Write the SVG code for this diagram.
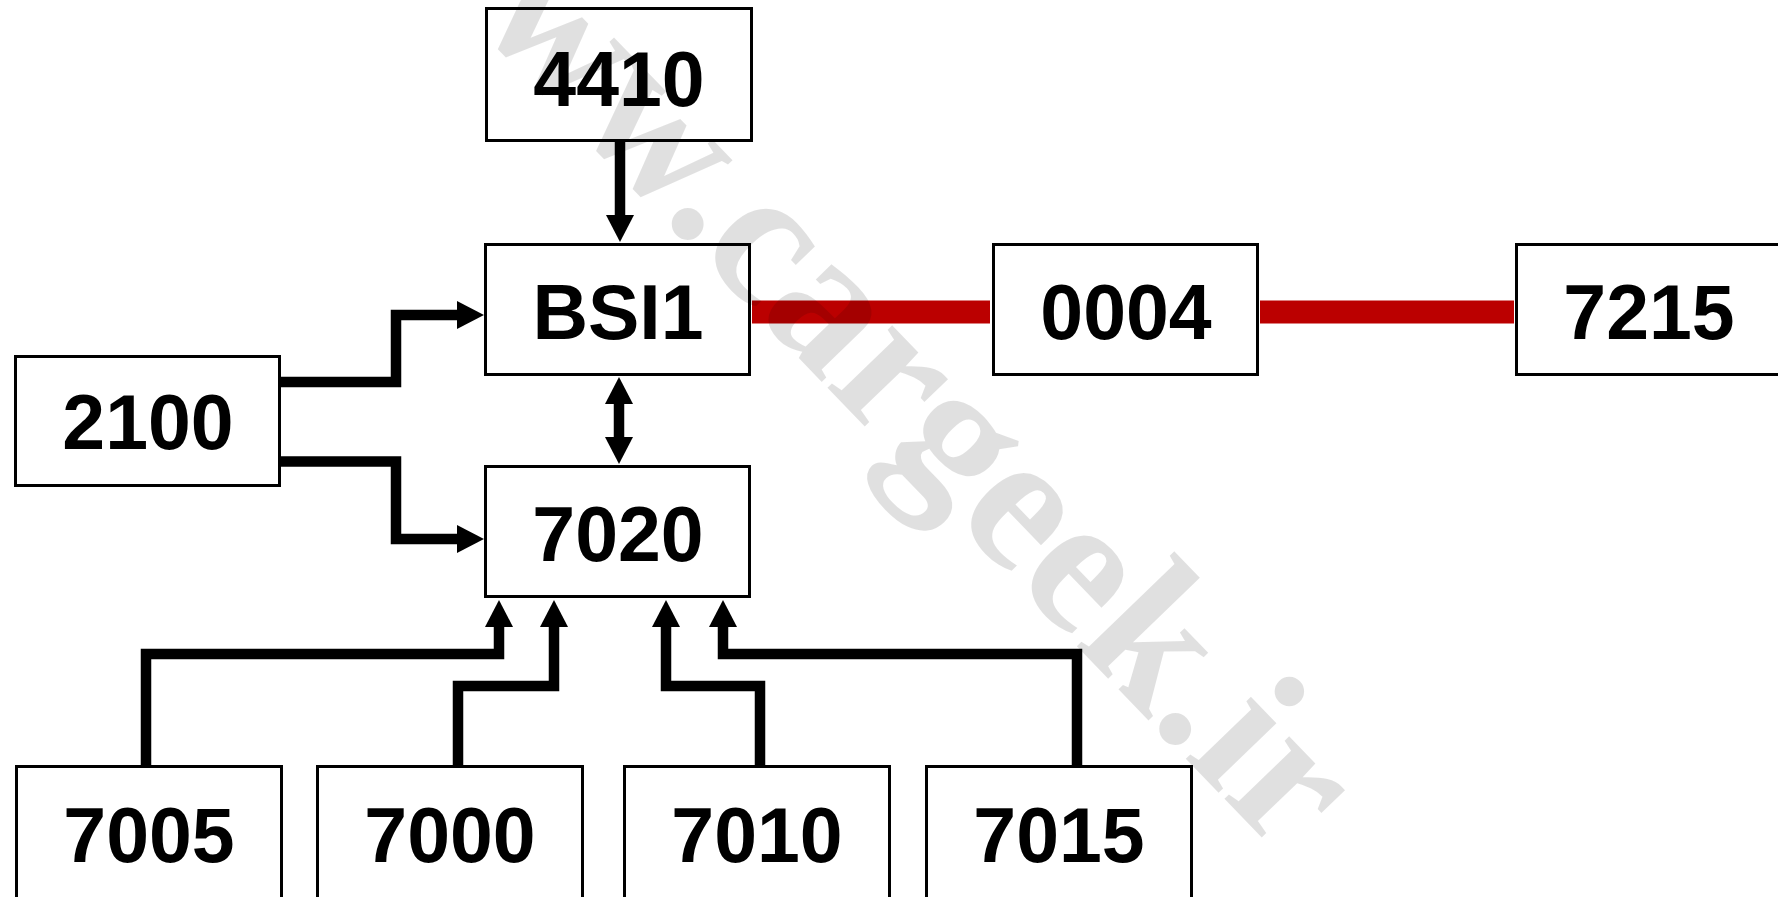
<svg xmlns="http://www.w3.org/2000/svg" width="1778" height="897" viewBox="0 0 1778 897">
<style>
.box{fill:#fff;stroke:#000;stroke-width:3}
.lbl{font-family:"Liberation Sans",Arial,sans-serif;font-weight:bold;font-size:77px;fill:#000;text-anchor:middle}
.wire{fill:none;stroke:#000;stroke-width:10.5;stroke-linejoin:miter}
.bus{fill:none;stroke:#bb0000;stroke-width:23}
.wm{font-family:"Liberation Serif","Times New Roman",serif;font-weight:bold;font-size:196px;fill:#000;fill-opacity:0.12}
</style>
<defs>
<marker id="ah" markerUnits="userSpaceOnUse" viewBox="0 0 27 28" markerWidth="27" markerHeight="28" refX="0" refY="14" orient="auto-start-reverse">
<path d="M0,0 L27,14 L0,28 z" fill="#000"/>
</marker>
</defs>
<rect width="1778" height="897" fill="#fff"/>
<g id="connectors">
<path class="bus" d="M752,312 H990"/>
<path class="bus" d="M1260,312 H1514"/>
<path class="wire" d="M620,142 V215" marker-end="url(#ah)"/>
<path class="wire" d="M619,404 V437" marker-start="url(#ah)" marker-end="url(#ah)"/>
<path class="wire" d="M281,382 H396 V315 H457" marker-end="url(#ah)"/>
<path class="wire" d="M281,461.5 H396 V539 H457" marker-end="url(#ah)"/>
<path class="wire" d="M146,765 V654 H499 V627" marker-end="url(#ah)"/>
<path class="wire" d="M458,765 V686 H554 V627" marker-end="url(#ah)"/>
<path class="wire" d="M760,765 V686 H666 V627" marker-end="url(#ah)"/>
<path class="wire" d="M1077,765 V654 H723 V627" marker-end="url(#ah)"/>
</g>
<g id="n4410"><rect class="box" x="486.5" y="8.5" width="265" height="132"/><text class="lbl" x="619" y="106">4410</text></g>
<g id="nBSI1"><rect class="box" x="485.5" y="244.5" width="264" height="130"/><text class="lbl" x="618" y="339">BSI1</text></g>
<g id="n7020"><rect class="box" x="485.5" y="466.5" width="264" height="130"/><text class="lbl" x="618" y="561">7020</text></g>
<g id="n2100"><rect class="box" x="15.5" y="356.5" width="264" height="129"/><text class="lbl" x="148" y="449">2100</text></g>
<g id="n0004"><rect class="box" x="993.5" y="244.5" width="264" height="130"/><text class="lbl" x="1126" y="339">0004</text></g>
<g id="n7215"><rect class="box" x="1516.5" y="244.5" width="264" height="130"/><text class="lbl" x="1649" y="339">7215</text></g>
<g id="n7005"><rect class="box" x="16.5" y="766.5" width="265" height="132"/><text class="lbl" x="149" y="862">7005</text></g>
<g id="n7000"><rect class="box" x="317.5" y="766.5" width="265" height="132"/><text class="lbl" x="450" y="862">7000</text></g>
<g id="n7010"><rect class="box" x="624.5" y="766.5" width="265" height="132"/><text class="lbl" x="757" y="862">7010</text></g>
<g id="n7015"><rect class="box" x="926.5" y="766.5" width="265" height="132"/><text class="lbl" x="1059" y="862">7015</text></g>
<g id="watermark" transform="translate(700,227) rotate(46)">
<text class="wm" x="-449" y="20">www.cargeek.ir</text>
</g>
</svg>
